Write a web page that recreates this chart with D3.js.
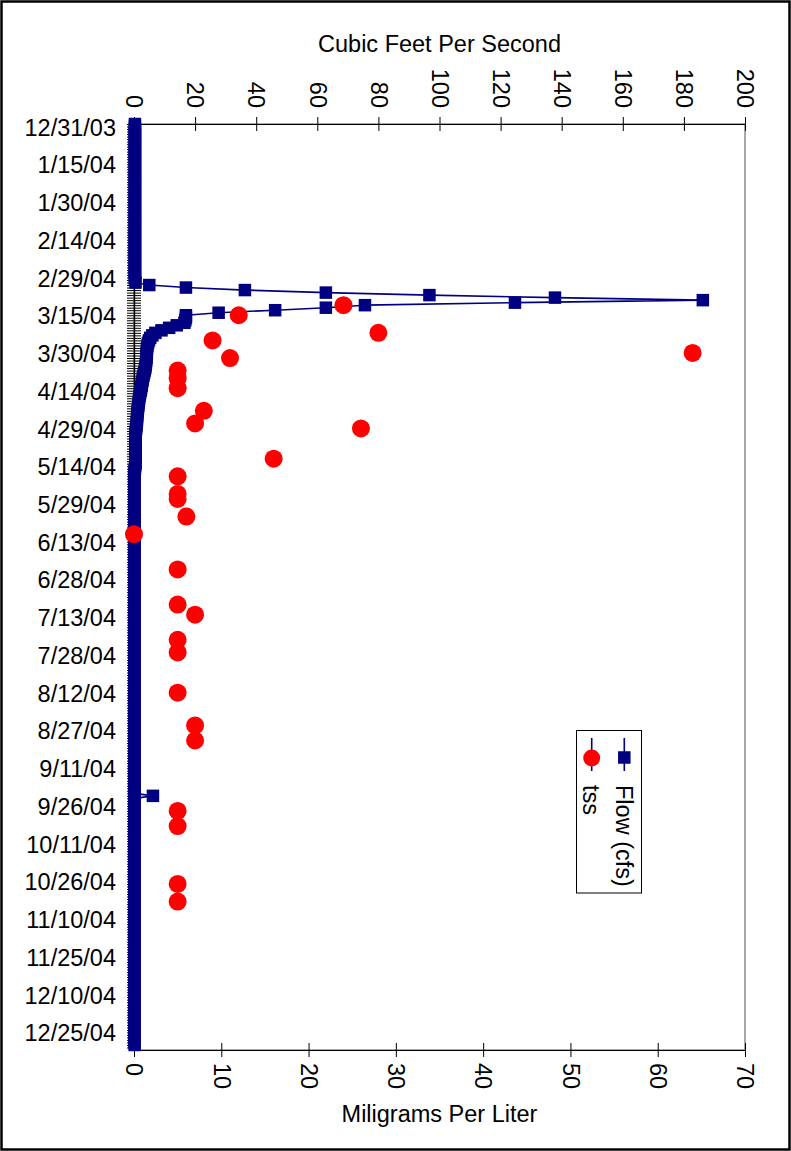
<!DOCTYPE html>
<html>
<head>
<meta charset="utf-8">
<script src="https://cdn.jsdelivr.net/npm/d3@7"></script>
<style>
  html, body { margin: 0; padding: 0; background: #fff; }
  svg { display: block; }
  text { font-family: "Liberation Sans", Arial, sans-serif; fill: #000; }
</style>
</head>
<body>
<svg id="chart" width="791" height="1151"></svg>
<script>
// Date axis labels (every 15 days)
const dateTickLabels = [
  "12/31/03", "1/15/04", "1/30/04", "2/14/04", "2/29/04", "3/15/04", "3/30/04",
  "4/14/04", "4/29/04", "5/14/04", "5/29/04", "6/13/04", "6/28/04", "7/13/04",
  "7/28/04", "8/12/04", "8/27/04", "9/11/04", "9/26/04", "10/11/04", "10/26/04",
  "11/10/04", "11/25/04", "12/10/04", "12/25/04"
];
const dateAxisEnd = "1/2/05";

// Numeric axis ticks
const cfsTicks = [0, 20, 40, 60, 80, 100, 120, 140, 160, 180, 200];
const mglTicks = [0, 10, 20, 30, 40, 50, 60, 70];

// Daily flow (cfs), one reading per day starting on flowFirstDay
const flowFirstDay = "12/31/03";
const flowCfs = [
  0.3, 0.3, 0.3, 0.3, 0.3, 0.3, 0.3, 0.3, 0.3, 0.3,
  0.3, 0.3, 0.3, 0.3, 0.3, 0.3, 0.3, 0.3, 0.3, 0.3,
  0.3, 0.3, 0.3, 0.3, 0.3, 0.3, 0.3, 0.3, 0.3, 0.3,
  0.3, 0.3, 0.3, 0.3, 0.3, 0.3, 0.3, 0.3, 0.3, 0.3,
  0.3, 0.3, 0.3, 0.3, 0.3, 0.3, 0.3, 0.3, 0.3, 0.3,
  0.3, 0.3, 0.3, 0.3, 0.3, 0.3, 0.3, 0.3, 0.3, 0.3,
  0.3, 0.3, 0.3, 0.5, 5.0, 17.0, 36.3, 62.8, 96.7, 137.8,
  186.2, 124.7, 75.6, 62.8, 46.2, 27.7, 17.0, 17.0, 16.8, 16.5,
  14.0, 11.5, 9.0, 7.0, 6.0, 5.3, 4.9, 4.6, 4.4, 4.3,
  4.2, 4.2, 4.1, 4.1, 4.0, 3.9, 3.8, 3.7, 3.5, 3.3,
  3.1, 2.9, 2.8, 2.6, 2.5, 2.35, 2.2, 2.0, 1.85, 1.7,
  1.6, 1.5, 1.4, 1.3, 1.2, 1.1, 1.05, 1.0, 0.95, 0.9,
  0.8, 0.7, 0.6, 0.5, 0.45, 0.45, 0.5, 0.5, 0.55, 0.5,
  0.5, 0.5, 0.45, 0.5, 0.55, 0.5, 0.4, 0.3, 0.2, 0.15,
  0.1, 0.2, 0.2, 0.2, 0.2, 0.2, 0.2, 0.2, 0.2, 0.2,
  0.2, 0.2, 0.2, 0.2, 0.2, 0.2, 0.2, 0.2, 0.2, 0.2,
  0.2, 0.2, 0.2, 0.2, 0.2, 0.2, 0.2, 0.2, 0.2, 0.2,
  0.2, 0.2, 0.2, 0.2, 0.2, 0.2, 0.2, 0.2, 0.2, 0.2,
  0.2, 0.2, 0.2, 0.2, 0.2, 0.2, 0.2, 0.2, 0.2, 0.2,
  0.2, 0.2, 0.2, 0.2, 0.2, 0.2, 0.2, 0.2, 0.2, 0.2,
  0.2, 0.2, 0.2, 0.2, 0.2, 0.2, 0.2, 0.2, 0.2, 0.2,
  0.2, 0.2, 0.2, 0.2, 0.2, 0.2, 0.2, 0.2, 0.2, 0.2,
  0.2, 0.2, 0.2, 0.2, 0.2, 0.2, 0.2, 0.2, 0.2, 0.2,
  0.2, 0.2, 0.2, 0.2, 0.2, 0.2, 0.2, 0.2, 0.2, 0.2,
  0.2, 0.2, 0.2, 0.2, 0.2, 0.2, 0.2, 0.2, 0.2, 0.2,
  0.2, 0.2, 0.2, 0.2, 0.2, 0.2, 0.2, 0.2, 0.2, 0.2,
  0.2, 0.2, 0.2, 0.2, 0.2, 0.2, 0.2, 6.2, 0.2, 0.2,
  0.2, 0.2, 0.2, 0.2, 0.2, 0.2, 0.2, 0.2, 0.2, 0.2,
  0.2, 0.2, 0.2, 0.2, 0.2, 0.2, 0.2, 0.2, 0.2, 0.2,
  0.2, 0.2, 0.2, 0.2, 0.2, 0.2, 0.2, 0.2, 0.2, 0.2,
  0.2, 0.2, 0.2, 0.2, 0.2, 0.2, 0.2, 0.2, 0.2, 0.2,
  0.2, 0.2, 0.2, 0.2, 0.2, 0.2, 0.2, 0.2, 0.2, 0.2,
  0.2, 0.2, 0.2, 0.2, 0.2, 0.2, 0.2, 0.2, 0.2, 0.2,
  0.2, 0.2, 0.2, 0.2, 0.2, 0.2, 0.2, 0.2, 0.2, 0.2,
  0.2, 0.2, 0.2, 0.2, 0.2, 0.2, 0.2, 0.2, 0.2, 0.2,
  0.2, 0.2, 0.2, 0.2, 0.2, 0.2, 0.2, 0.2, 0.2, 0.2,
  0.2, 0.2, 0.2, 0.2, 0.2, 0.2, 0.2
];

// Total suspended solids samples (mg/L)
const tssDates = [
  "3/12/04", "3/16/04", "3/23/04", "3/26/04", "3/31/04", "4/2/04", "4/7/04",
  "4/10/04", "4/14/04", "4/23/04", "4/28/04", "4/30/04", "5/12/04", "5/19/04",
  "5/26/04", "5/28/04", "6/4/04", "6/11/04", "6/25/04", "7/9/04", "7/13/04",
  "7/23/04", "7/28/04", "8/13/04", "8/26/04", "9/1/04", "9/29/04", "10/5/04",
  "10/28/04", "11/4/04"
];
const tssMgl = [
  24, 12, 28, 9, 64, 11, 5,
  5, 5, 8, 7, 26, 16, 5,
  5, 5, 6, 0, 5, 5, 7,
  5, 5, 5, 7, 7, 5, 5,
  5, 5
];

const NAVY = "#000080";
const RED = "#ff0000";
const FONT = 23.5;

const parse = d3.utcParse("%m/%d/%y");
const svg = d3.select("#chart");

const plot = { left: 134, right: 745, top: 124, bottom: 1050 };

const firstDay = parse(flowFirstDay);
const y = d3.scaleUtc()
  .domain([parse(dateTickLabels[0]), parse(dateAxisEnd)])
  .range([plot.top, plot.bottom]);
const xCfs = d3.scaleLinear().domain([0, 200]).range([plot.left, plot.right]);
const xMgl = d3.scaleLinear().domain([0, 70]).range([plot.left, plot.right]);

const flowData = flowCfs.map((v, i) => ({ date: d3.utcDay.offset(firstDay, i), v }));
const tssData = tssDates.map((d, i) => ({ date: parse(d), v: tssMgl[i] }));

// Outer frame
svg.append("rect")
  .attr("x", 1.5).attr("y", 1.5)
  .attr("width", 788).attr("height", 1148)
  .attr("fill", "#fff").attr("stroke", "#000").attr("stroke-width", 2.5);

// Plot area border
svg.append("rect")
  .attr("x", plot.left).attr("y", plot.top)
  .attr("width", plot.right - plot.left).attr("height", plot.bottom - plot.top)
  .attr("fill", "none").attr("stroke", "#8c8c8c").attr("stroke-width", 1.5);

function styleAxis(g) {
  g.attr("font-size", null).attr("font-family", null);
  g.selectAll("path.domain").attr("stroke", "#000").attr("stroke-width", 1.2);
  g.selectAll(".tick line").attr("stroke", "#000").attr("stroke-width", 1);
  g.selectAll("text").style("font-size", FONT + "px");
}

// Date axis: daily cross ticks
const allDays = d3.utcDay.range(y.domain()[0], y.domain()[1]);
svg.append("g")
  .attr("transform", `translate(${plot.left},0)`)
  .call(d3.axisLeft(y).tickValues(allDays).tickSize(7).tickSizeOuter(0).tickFormat(""))
  .call(styleAxis);
svg.append("g")
  .attr("transform", `translate(${plot.left},0)`)
  .call(d3.axisRight(y).tickValues(allDays).tickSize(7).tickSizeOuter(0).tickFormat(""))
  .call(styleAxis);

// Date labels
const labelDates = dateTickLabels.map(parse);
svg.append("g")
  .attr("transform", `translate(${plot.left},0)`)
  .call(d3.axisLeft(y).tickValues(labelDates).tickSize(0).tickSizeOuter(0).tickPadding(18)
    .tickFormat((d, i) => dateTickLabels[i]))
  .call(styleAxis)
  .call(g => g.select("path.domain").remove())
  .call(g => g.selectAll("text").attr("dy", "0.47em"));

// Top axis: cubic feet per second
svg.append("g")
  .attr("transform", `translate(0,${plot.top})`)
  .call(d3.axisBottom(xCfs).tickValues(cfsTicks).tickSize(7).tickSizeOuter(0).tickFormat(""))
  .call(styleAxis);
svg.append("g")
  .attr("transform", `translate(0,${plot.top})`)
  .call(d3.axisTop(xCfs).tickValues(cfsTicks).tickSize(7).tickSizeOuter(0).tickFormat(d3.format("d")))
  .call(styleAxis)
  .call(g => g.selectAll("text")
    .attr("y", 0).attr("dy", "0.35em")
    .attr("text-anchor", "end")
    .attr("transform", "translate(0,-16) rotate(90)"));

// Bottom axis: milligrams per liter
svg.append("g")
  .attr("transform", `translate(0,${plot.bottom})`)
  .call(d3.axisTop(xMgl).tickValues(mglTicks).tickSize(7).tickSizeOuter(0).tickFormat(""))
  .call(styleAxis);
svg.append("g")
  .attr("transform", `translate(0,${plot.bottom})`)
  .call(d3.axisBottom(xMgl).tickValues(mglTicks).tickSize(7).tickSizeOuter(0).tickFormat(d3.format("d")))
  .call(styleAxis)
  .call(g => g.selectAll("text")
    .attr("y", 0).attr("dy", "0.35em")
    .attr("text-anchor", "start")
    .attr("transform", "translate(0,13) rotate(90)"));

// Axis titles
const midX = (plot.left + plot.right) / 2;
svg.append("text")
  .attr("x", midX).attr("y", 52)
  .attr("text-anchor", "middle")
  .style("font-size", FONT + "px")
  .text("Cubic Feet Per Second");
svg.append("text")
  .attr("x", midX).attr("y", 1122)
  .attr("text-anchor", "middle")
  .style("font-size", FONT + "px")
  .text("Miligrams Per Liter");

// Flow series
svg.append("path")
  .datum(flowData)
  .attr("fill", "none")
  .attr("stroke", NAVY)
  .attr("stroke-width", 1.6)
  .attr("stroke-linejoin", "round")
  .attr("d", d3.line().x(d => xCfs(d.v)).y(d => y(d.date)));

const SQ = 12.5;
svg.append("g")
  .selectAll("rect")
  .data(flowData)
  .join("rect")
  .attr("x", d => xCfs(d.v) - SQ / 2)
  .attr("y", d => y(d.date) - SQ / 2)
  .attr("width", SQ).attr("height", SQ)
  .attr("fill", NAVY);

// TSS series
svg.append("g")
  .selectAll("circle")
  .data(tssData)
  .join("circle")
  .attr("cx", d => xMgl(d.v))
  .attr("cy", d => y(d.date))
  .attr("r", 9)
  .attr("fill", RED);

// Legend
const legend = svg.append("g");
legend.append("rect")
  .attr("x", 576.5).attr("y", 730.5)
  .attr("width", 65).attr("height", 162.5)
  .attr("fill", "#fff").attr("stroke", "#000").attr("stroke-width", 1);

const legendItems = [
  { label: "Flow (cfs)", x: 624.3, type: "square" },
  { label: "tss", x: 591.7, type: "circle" }
];
legendItems.forEach(item => {
  legend.append("line")
    .attr("x1", item.x).attr("x2", item.x)
    .attr("y1", 738).attr("y2", 771)
    .attr("stroke", NAVY).attr("stroke-width", 1.6);
  if (item.type === "square") {
    legend.append("rect")
      .attr("x", item.x - SQ / 2).attr("y", 757.5 - SQ / 2)
      .attr("width", SQ).attr("height", SQ)
      .attr("fill", NAVY);
  } else {
    legend.append("circle")
      .attr("cx", item.x).attr("cy", 758)
      .attr("r", 8.5)
      .attr("fill", RED);
  }
  legend.append("text")
    .attr("transform", `translate(${item.x},785) rotate(90)`)
    .attr("dy", "0.35em")
    .attr("text-anchor", "start")
    .style("font-size", FONT + "px")
    .text(item.label);
});
</script>
</body>
</html>
